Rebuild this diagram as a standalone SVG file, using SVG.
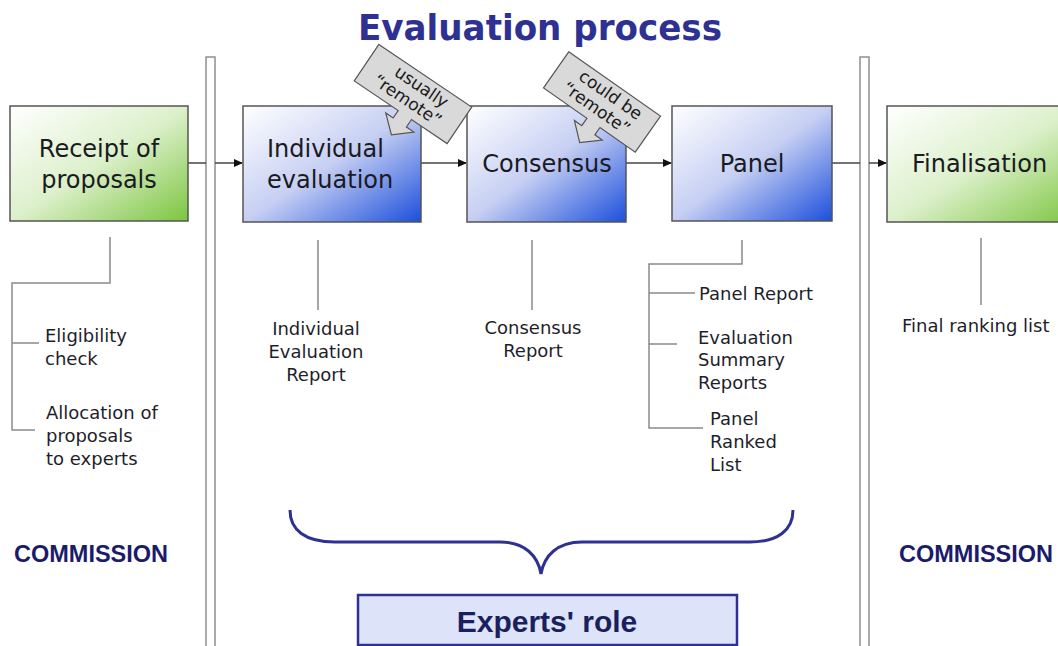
<svg xmlns="http://www.w3.org/2000/svg" width="1058" height="646" viewBox="0 0 1058 646">
<style>
.box{stroke:#555;stroke-width:1.5}
.big{font-family:"DejaVu Sans",Verdana,sans-serif;font-size:24px;fill:#1a1a22}
.lbl{font-family:"DejaVu Sans",Verdana,sans-serif;font-size:18px;fill:#1e1e2a}
.co{font-family:"DejaVu Sans",Verdana,sans-serif;font-size:17px;fill:#1a1a1a}
.comm{font-family:"Liberation Sans",Arial,sans-serif;font-weight:bold;font-size:23.5px;fill:#1b1b6b}
.ln{stroke:#8a8a8a;stroke-width:1.5;fill:none}
.arr{stroke:#444;stroke-width:1.5;fill:none}
.bar{fill:#fff;stroke:#8f8f8f;stroke-width:1.5}
.callout{fill:#d9d9d9;stroke:#555;stroke-width:1.2}
</style>
<defs>
<linearGradient id="gGreen" x1="0" y1="0" x2="1" y2="1">
<stop offset="0" stop-color="#ffffff"/>
<stop offset="0.5" stop-color="#dcf0cb"/>
<stop offset="1" stop-color="#7cc540"/>
</linearGradient>
<linearGradient id="gBlue" x1="0" y1="0" x2="1" y2="1">
<stop offset="0" stop-color="#ffffff"/>
<stop offset="0.5" stop-color="#c6cff3"/>
<stop offset="1" stop-color="#1c4fdc"/>
</linearGradient>
<marker id="ah" markerWidth="9" markerHeight="8" refX="8" refY="4" orient="auto" markerUnits="userSpaceOnUse">
<path d="M0,0 L9,4 L0,8 z" fill="#111"/>
</marker>
</defs>
<rect width="1058" height="646" fill="#fff"/>

<text x="540" y="40" text-anchor="middle" font-family="DejaVu Sans,Verdana,sans-serif" font-weight="bold" font-size="35" fill="#2e3192" textLength="364" lengthAdjust="spacingAndGlyphs">Evaluation process</text>

<g id="bars">
<rect class="bar" x="206" y="57" width="9" height="600"/>
<rect class="bar" x="860" y="57" width="9" height="600"/>
</g>

<g id="connectors">
<line class="arr" x1="188" y1="163" x2="206" y2="163"/>
<line class="arr" x1="215" y1="163" x2="242" y2="163" marker-end="url(#ah)"/>
<line class="arr" x1="421" y1="163" x2="466" y2="163" marker-end="url(#ah)"/>
<line class="arr" x1="626" y1="163" x2="671" y2="163" marker-end="url(#ah)"/>
<line class="arr" x1="832" y1="163" x2="860" y2="163"/>
<line class="arr" x1="869" y1="163" x2="886" y2="163" marker-end="url(#ah)"/>
<path class="ln" d="M110,237 V283 H12 V430 H35 M12,343 H39"/>
<line class="ln" x1="318" y1="240" x2="318" y2="310"/>
<line class="ln" x1="532" y1="240" x2="532" y2="310"/>
<path class="ln" d="M742,240 V264 H649 V428 H703 M649,293 H695 M649,344 H677" stroke="#666"/>
<line class="ln" x1="981" y1="238" x2="981" y2="305" stroke="#666"/>
<path d="M290,510 C290,530 305,542 335,542 H500 C525,542 538,556 541,574 C544,556 557,542 582,542 H750 C778,542 793,530 793,510" fill="none" stroke="#2e3192" stroke-width="3"/>
</g>

<g id="receipt">
<rect class="box" x="10" y="106" width="178" height="115" fill="url(#gGreen)"/>
<text class="big" x="99" y="157" text-anchor="middle">Receipt of</text>
<text class="big" x="99" y="188" text-anchor="middle">proposals</text>
</g>

<g id="individual">
<rect class="box" x="243" y="106" width="178" height="116" fill="url(#gBlue)"/>
<text class="big" x="267" y="157">Individual</text>
<text class="big" x="267" y="188">evaluation</text>
</g>

<g id="consensus">
<rect class="box" x="467" y="106" width="159" height="116" fill="url(#gBlue)"/>
<text class="big" x="547" y="172" text-anchor="middle">Consensus</text>
</g>

<g id="panel">
<rect class="box" x="672" y="106" width="160" height="115" fill="url(#gBlue)"/>
<text class="big" x="752" y="172" text-anchor="middle">Panel</text>
</g>

<g id="finalisation">
<rect class="box" x="887" y="106" width="190" height="116" fill="url(#gGreen)"/>
<text class="big" x="912" y="172">Finalisation</text>
</g>

<g id="callout-usually" transform="translate(413,94) rotate(34)">
<path class="callout" d="M-56,-22 L56,-22 L56,22 L13,22 L13,31 L22,31 L5,46 L-12,31 L-3,31 L-3,22 L-56,22 Z"/>
<text class="co" x="3" y="-5" text-anchor="middle">usually</text>
<text class="co" x="-1" y="14" text-anchor="middle">“remote”</text>
</g>

<g id="callout-could" transform="translate(602,102) rotate(35)">
<path class="callout" d="M-56,-22 L56,-22 L56,22 L13,22 L13,31 L22,31 L5,46 L-12,31 L-3,31 L-3,22 L-56,22 Z"/>
<text class="co" x="3" y="-5" text-anchor="middle">could be</text>
<text class="co" x="-1" y="14" text-anchor="middle">“remote”</text>
</g>

<g id="receipt-outputs">
<text class="lbl" x="45" y="342">Eligibility</text>
<text class="lbl" x="45" y="365">check</text>
<text class="lbl" x="46" y="419">Allocation of</text>
<text class="lbl" x="46" y="442">proposals</text>
<text class="lbl" x="46" y="465">to experts</text>
</g>

<g id="individual-report">
<text class="lbl" x="316" y="335" text-anchor="middle">Individual</text>
<text class="lbl" x="316" y="358" text-anchor="middle">Evaluation</text>
<text class="lbl" x="316" y="381" text-anchor="middle">Report</text>
</g>

<g id="consensus-report">
<text class="lbl" x="533" y="334" text-anchor="middle">Consensus</text>
<text class="lbl" x="533" y="357" text-anchor="middle">Report</text>
</g>

<g id="panel-outputs">
<text class="lbl" x="699" y="300">Panel Report</text>
<text class="lbl" x="698" y="344">Evaluation</text>
<text class="lbl" x="698" y="366">Summary</text>
<text class="lbl" x="698" y="389">Reports</text>
<text class="lbl" x="710" y="425">Panel</text>
<text class="lbl" x="710" y="448">Ranked</text>
<text class="lbl" x="710" y="471">List</text>
</g>

<g id="final-list">
<text class="lbl" x="902" y="332">Final ranking list</text>
</g>

<g id="commission-left">
<text class="comm" x="14" y="562">COMMISSION</text>
</g>
<g id="commission-right">
<text class="comm" x="899" y="562">COMMISSION</text>
</g>

<g id="experts-role">
<rect x="358" y="595" width="379" height="50" fill="#dde3f8" stroke="#2e3192" stroke-width="2.5"/>
<text x="547" y="632" text-anchor="middle" font-family="Liberation Sans,Arial,sans-serif" font-weight="bold" font-size="30" fill="#1b1f5e">Experts' role</text>
</g>
</svg>
